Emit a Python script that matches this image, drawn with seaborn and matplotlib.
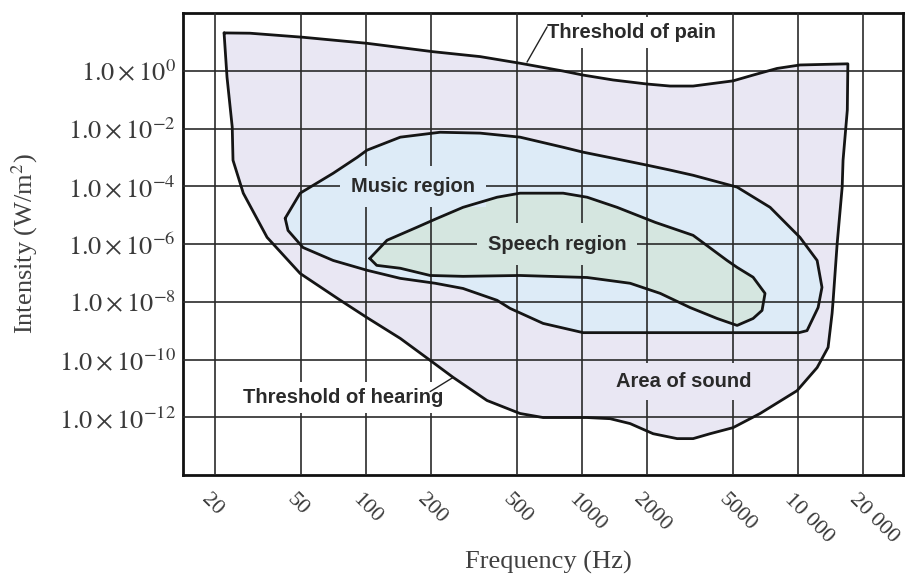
import matplotlib
matplotlib.use("Agg")
import matplotlib.pyplot as plt
import matplotlib.transforms as mtransforms
import numpy as np
import seaborn as sns

sns.set_theme(style="white")
plt.rcParams["mathtext.fontset"] = "stix"
plt.rcParams["font.family"] = ["Liberation Serif", "DejaVu Serif"]

# frequency ticks (Hz) and intensity ticks (log10 W/m^2)
freq_ticks = [20, 50, 100, 200, 500, 1000, 2000, 5000, 10000, 20000]
freq_labels = ["20", "50", "100", "200", "500", "1000", "2000", "5000", "10 000", "20 000"]
int_ticks_exp = [0, -2, -4, -6, -8, -10, -12]

# area of sound: threshold of pain (top), right edge, threshold of hearing (bottom)
sound_hz = [22, 29, 51, 101, 204, 337, 516, 817, 1011, 1393, 2000, 2555, 3266, 5000,
            6190, 7990, 10200, 17000, 16900, 16150, 16000, 15170, 14530, 14370, 13770,
            12250, 9890, 6670, 5000, 3915, 3266, 2754, 2133, 1669, 1349, 1055, 660, 516,
            363, 253, 198, 144, 101, 76, 49.5, 34.8, 27.0, 24.2, 24.0, 22.7]
sound_log_i = [1.31, 1.30, 1.16, 0.95, 0.66, 0.49, 0.26, -0.01, -0.15, -0.32, -0.46,
               -0.53, -0.53, -0.35, -0.15, 0.08, 0.20, 0.24, -1.36, -3.10, -4.03, -5.98,
               -7.95, -8.40, -9.58, -10.28, -11.08, -11.87, -12.36, -12.57, -12.74,
               -12.74, -12.57, -12.22, -12.05, -12.01, -12.01, -11.87, -11.42, -10.62,
               -10.03, -9.27, -8.55, -7.95, -7.02, -5.77, -4.24, -3.10, -1.95, -0.22]

# music region
music_hz = [42.2, 49.5, 70.4, 90.9, 101, 144, 220, 337, 516, 817, 1011, 1393, 2000,
            2555, 3266, 5220, 7420, 10200, 12250, 12900, 12380, 11000, 10100, 5390,
            1011, 660, 464, 404, 281, 209, 144, 101, 70.4, 51, 43.5]
music_log_i = [-5.11, -4.24, -3.55, -3.00, -2.75, -2.30, -2.13, -2.16, -2.30, -2.65,
               -2.82, -3.03, -3.27, -3.44, -3.62, -4.03, -4.73, -5.77, -6.57, -7.50,
               -8.20, -9.00, -9.07, -9.07, -9.07, -8.75, -8.23, -7.95, -7.54, -7.36,
               -7.19, -6.91, -6.57, -6.12, -5.53]

# speech region
speech_hz = [104, 125, 172, 209, 281, 404, 516, 817, 1055, 1452, 2180, 3266, 4690, 5220,
             6190, 7030, 6810, 6190, 5220, 4220, 3160, 2300, 1669, 1055, 516, 281, 198,
             144, 112]
speech_log_i = [-6.50, -5.87, -5.42, -5.14, -4.73, -4.38, -4.24, -4.24, -4.38, -4.73,
                -5.25, -5.70, -6.57, -6.81, -7.15, -7.71, -8.30, -8.58, -8.82, -8.58,
                -8.20, -7.71, -7.36, -7.16, -7.09, -7.12, -7.09, -6.84, -6.74]

regions = [
    (sound_hz, sound_log_i, "#E9E7F3"),
    (music_hz, music_log_i, "#DDEBF7"),
    (speech_hz, speech_log_i, "#D5E6E0"),
]

fig = plt.figure(figsize=(9.05, 5.81), dpi=100)
ax = fig.add_axes([183 / 905, 106 / 581, 720 / 905, 462 / 581])
ax.set_xscale("log")
ax.set_yscale("log")

for hz, lg, col in regions:
    x = list(hz) + [hz[0]]
    y = list(10.0 ** np.array(lg)) + [10.0 ** lg[0]]
    ax.fill(x, y, color=col, zorder=1, lw=0)
    sns.lineplot(x=x, y=y, sort=False, estimator=None, color="#151515", lw=2.0,
                 ax=ax, zorder=4)

ax.set_xlim(14.2, 30600)
ax.set_ylim(1e-14, 1e2)

ax.set_xticks(freq_ticks)
ax.set_yticks([10.0 ** e for e in int_ticks_exp])
ax.minorticks_off()
ax.tick_params(axis="both", length=0)
ax.tick_params(axis="x", pad=16)
ax.tick_params(axis="y", pad=5)
ax.set_xticklabels(freq_labels, rotation=-45, ha="left", va="center",
                   rotation_mode="anchor", fontsize=16, color="#3a3a3a")
ax.set_yticklabels([r"$1.0\times10^{%d}$" % e for e in int_ticks_exp],
                   fontsize=19, color="#3a3a3a")
# nudge the slanted frequency labels left like the printed figure
shift = mtransforms.ScaledTranslation(-11 / 100, 0, fig.dpi_scale_trans)
for lbl in ax.get_xticklabels():
    lbl.set_transform(lbl.get_transform() + shift)

ax.set_axisbelow(False)
ax.grid(True, which="major", color="#2a2a2a", lw=1.2)
for s in ax.spines.values():
    s.set_visible(True)
    s.set_color("#111111")
    s.set_linewidth(2.0)

ax.set_xlabel("Frequency (Hz)", fontsize=19, color="#404040")
ax.set_ylabel(r"Intensity (W/m$^2$)", fontsize=19, color="#404040")
ax.xaxis.set_label_coords(0.507, -0.165)
ax.yaxis.set_label_coords(-0.199, 0.5)

lab = dict(fontfamily="Liberation Sans", fontweight="bold", fontsize=14.5,
           color="#2a2a2a", zorder=3)
ax.text(689, 10 ** 1.34, "Threshold of pain", ha="left", va="center",
        bbox=dict(boxstyle="square,pad=0.3", fc="white", ec="none"), **lab)
ax.plot([689, 556], [10 ** 1.52, 10 ** 0.30], color="#222222", lw=1.0, zorder=3.5)
ax.text(165, 1e-4, "Music region", ha="center", va="center",
        bbox=dict(boxstyle="square,pad=0.55", fc="#DDEBF7", ec="none"), **lab)
ax.text(766, 1e-6, "Speech region", ha="center", va="center",
        bbox=dict(boxstyle="square,pad=0.55", fc="#D5E6E0", ec="none"), **lab)
ax.text(2965, 10 ** -10.76, "Area of sound", ha="center", va="center",
        bbox=dict(boxstyle="square,pad=0.45", fc="#E9E7F3", ec="none"), **lab)
ax.text(78, 10 ** -11.32, "Threshold of hearing", ha="center", va="center",
        bbox=dict(boxstyle="square,pad=0.3", fc="white", ec="none"), **lab)
ax.plot([198, 253], [10 ** -11.11, 10 ** -10.62], color="#222222", lw=1.0, zorder=3.5)

fig.savefig("out.png", dpi=100)
